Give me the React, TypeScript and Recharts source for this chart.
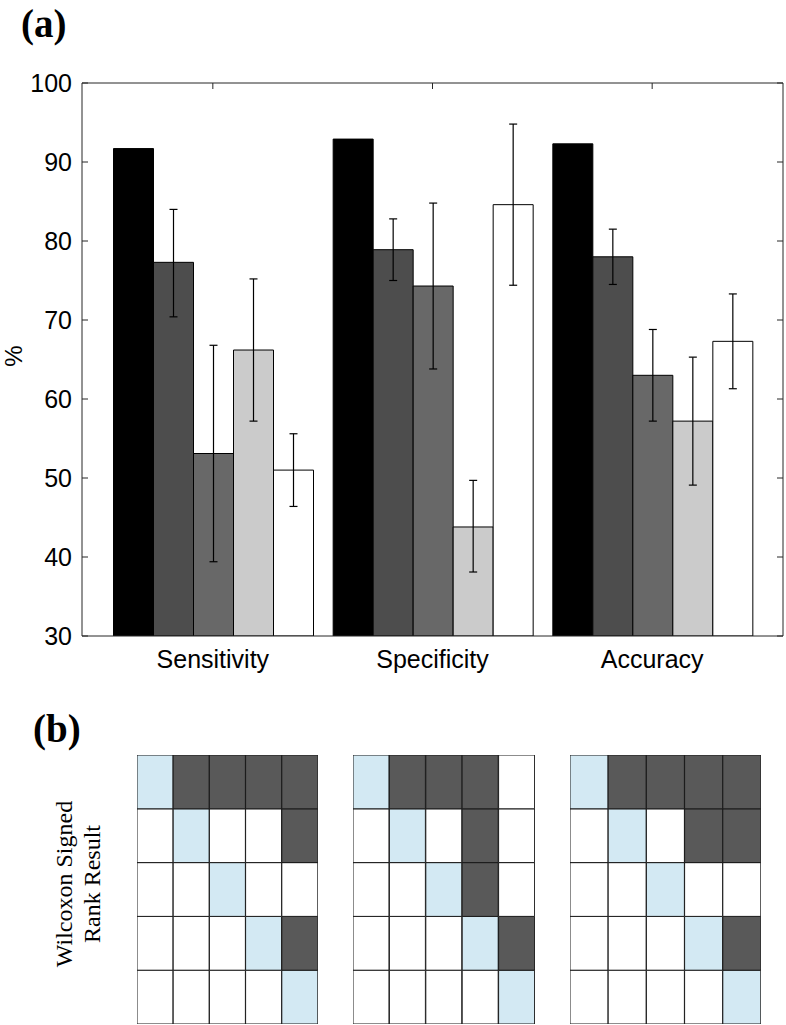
import React from 'react';
import { BarChart, Bar, XAxis, YAxis, ErrorBar, Cell } from 'recharts';

// ---------- Panel (a) data ----------
const categories = ['Sensitivity', 'Specificity', 'Accuracy'];
const methodKeys = ['m1', 'm2', 'm3', 'm4', 'm5'];
const methodColors = ['#000000', '#4d4d4d', '#686868', '#cbcbcb', '#ffffff'];

const m1Values = [91.7, 92.9, 92.3];
const m2Values = [77.3, 78.9, 78.0];
const m3Values = [53.1, 74.3, 63.0];
const m4Values = [66.2, 43.8, 57.2];
const m5Values = [51.0, 84.6, 67.3];

// error bar ends (lower, upper)
const m2Low = [70.4, 75.0, 74.5];
const m2High = [84.0, 82.8, 81.5];
const m3Low = [39.4, 63.8, 57.2];
const m3High = [66.8, 84.8, 68.8];
const m4Low = [57.2, 38.1, 49.1];
const m4High = [75.2, 49.7, 65.3];
const m5Low = [46.4, 74.4, 61.3];
const m5High = [55.6, 94.8, 73.3];

const yTicks = [30, 40, 50, 60, 70, 80, 90, 100];

// ---------- Panel (b) data ----------
// 2 = diagonal (blue), 1 = significant (dark), 0 = not significant (white)
const sensitivityMatrix = [
  [2, 1, 1, 1, 1],
  [0, 2, 0, 0, 1],
  [0, 0, 2, 0, 0],
  [0, 0, 0, 2, 1],
  [0, 0, 0, 0, 2],
];
const specificityMatrix = [
  [2, 1, 1, 1, 0],
  [0, 2, 0, 1, 0],
  [0, 0, 2, 1, 0],
  [0, 0, 0, 2, 1],
  [0, 0, 0, 0, 2],
];
const accuracyMatrix = [
  [2, 1, 1, 1, 1],
  [0, 2, 0, 1, 1],
  [0, 0, 2, 0, 0],
  [0, 0, 0, 2, 1],
  [0, 0, 0, 0, 2],
];
const cellColors = ['#ffffff', '#595959', '#d3e9f3'];
const gridColumns = ['c1', 'c2', 'c3', 'c4', 'c5'];
const rowKeys = ['r0', 'r1', 'r2', 'r3', 'r4'];

// ---------- build tables ----------
const valueSets = [m1Values, m2Values, m3Values, m4Values, m5Values];
const lowSets = [null, m2Low, m3Low, m4Low, m5Low];
const highSets = [null, m2High, m3High, m4High, m5High];

const barData = categories.map((name, i) => {
  const row: any = { name };
  methodKeys.forEach((k, j) => {
    const v = valueSets[j][i];
    row[k] = v;
    const lo = lowSets[j];
    const hi = highSets[j];
    if (lo && hi) row[k + 'err'] = [v - lo[i], hi[i] - v];
  });
  return row;
});

const buildGridData = () =>
  gridColumns.map((c) => {
    const row: any = { col: c };
    rowKeys.forEach((r) => (row[r] = 1));
    return row;
  });

const FONT = '"Liberation Sans", Arial, Helvetica, sans-serif';
const SERIF = '"Liberation Serif", "Times New Roman", serif';
const AXIS_COLOR = '#262626';

const LeftTick = (props: any) => {
  const { x, y, payload } = props;
  return (
    <g>
      <line x1={x + 10} x2={x + 16} y1={y} y2={y} stroke={AXIS_COLOR} strokeWidth={1} />
      <text x={x} y={y} dy={9} textAnchor="end" fontSize={25} fontFamily={FONT} fill="#000">
        {payload.value}
      </text>
    </g>
  );
};

const RightTick = (props: any) => {
  const { x, y } = props;
  return <line x1={x} x2={x - 6} y1={y} y2={y} stroke={AXIS_COLOR} strokeWidth={1} />;
};

const TopTick = (props: any) => {
  const { x, y } = props;
  return <line x1={x} x2={x} y1={y} y2={y + 6} stroke={AXIS_COLOR} strokeWidth={1} />;
};

const BottomTick = (props: any) => {
  const { x, y, payload } = props;
  return (
    <text x={x} y={y + 32} textAnchor="middle" fontSize={25} fontFamily={FONT} fill="#000">
      {payload.value}
    </text>
  );
};

const PercentLabel = () => (
  <text x={22} y={356} transform="rotate(-90 22 356)" textAnchor="middle" fontSize={24} fontFamily={FONT} fill="#000">
    %
  </text>
);

const xPadding = { left: 21, right: 21 };

const Grid = ({ matrix, left, width }: { matrix: number[][]; left: number; width: number }) => {
  const data = buildGridData();
  return (
    <div style={{ position: 'absolute', left, top: 755 }}>
      <BarChart width={width} height={269} data={data} margin={{ top: 0, right: 0, bottom: 0, left: 0 }} barCategoryGap={0} barGap={0}>
        <XAxis dataKey="col" hide />
        <YAxis type="number" domain={[0, 5]} hide />
        {[4, 3, 2, 1, 0].map((ri) => (
          <Bar key={ri} dataKey={rowKeys[ri]} stackId="s" isAnimationActive={false} stroke="#1a1a1a" strokeWidth={1}>
            {gridColumns.map((c, ci) => (
              <Cell key={c} fill={cellColors[matrix[ri][ci]]} />
            ))}
          </Bar>
        ))}
      </BarChart>
    </div>
  );
};

export default function App() {
  return (
    <div style={{ position: 'absolute', left: 0, top: 0, width: 786, height: 1025, background: '#fff' }}>
      <div style={{ position: 'absolute', left: 21, top: 3, fontFamily: SERIF, fontWeight: 'bold', fontSize: 39, lineHeight: '42px' }}>(a)</div>
      <div style={{ position: 'absolute', left: 33, top: 708, fontFamily: SERIF, fontWeight: 'bold', fontSize: 39, lineHeight: '42px' }}>(b)</div>

      <div style={{ position: 'absolute', left: 0, top: 0 }}>
        <BarChart
          width={786}
          height={700}
          data={barData}
          margin={{ top: 73, right: 0, bottom: 24, left: 22 }}
          barGap={0}
          barCategoryGap={10.5}
        >
          <XAxis
            dataKey="name"
            xAxisId="bottom"
            orientation="bottom"
            height={40}
            padding={xPadding}
            tickSize={0}
            tickMargin={0}
            tickLine={false}
            axisLine={{ stroke: AXIS_COLOR, strokeWidth: 1 }}
            tick={<BottomTick />}
            interval={0}
          />
          <XAxis
            dataKey="name"
            xAxisId="top"
            orientation="top"
            height={10}
            padding={xPadding}
            tickSize={0}
            tickMargin={0}
            tickLine={false}
            axisLine={{ stroke: AXIS_COLOR, strokeWidth: 1 }}
            tick={<TopTick />}
            interval={0}
          />
          <YAxis
            yAxisId="left"
            type="number"
            domain={[30, 100]}
            ticks={yTicks}
            width={60}
            tickSize={6}
            tickMargin={4}
            tickLine={false}
            axisLine={{ stroke: AXIS_COLOR, strokeWidth: 1 }}
            tick={<LeftTick />}
            interval={0}
            allowDataOverflow
            label={<PercentLabel />}
          />
          <YAxis
            yAxisId="right"
            orientation="right"
            type="number"
            domain={[30, 100]}
            ticks={yTicks}
            width={3}
            tickSize={0}
            tickMargin={0}
            tickLine={false}
            axisLine={{ stroke: AXIS_COLOR, strokeWidth: 1 }}
            tick={<RightTick />}
            interval={0}
            allowDataOverflow
          />
          {methodKeys.map((k, j) => (
            <Bar
              key={k}
              dataKey={k}
              xAxisId="bottom"
              yAxisId="left"
              fill={methodColors[j]}
              stroke="#000"
              strokeWidth={1}
              isAnimationActive={false}
            >
              {j > 0 && <ErrorBar dataKey={k + 'err'} width={4} stroke="#000" strokeWidth={1.2} direction="y" />}
            </Bar>
          ))}
        </BarChart>
      </div>

      <svg style={{ position: 'absolute', left: 0, top: 740 }} width={130} height={285}>
        <text x={72} y={144} transform="rotate(-90 72 144)" textAnchor="middle" fontSize={24} fontFamily={SERIF} fill="#000">
          Wilcoxon Signed
        </text>
        <text x={100} y={144} transform="rotate(-90 100 144)" textAnchor="middle" fontSize={24} fontFamily={SERIF} fill="#000">
          Rank Result
        </text>
      </svg>

      <Grid matrix={sensitivityMatrix} left={137} width={181} />
      <Grid matrix={specificityMatrix} left={353} width={182} />
      <Grid matrix={accuracyMatrix} left={570} width={191} />
    </div>
  );
}
